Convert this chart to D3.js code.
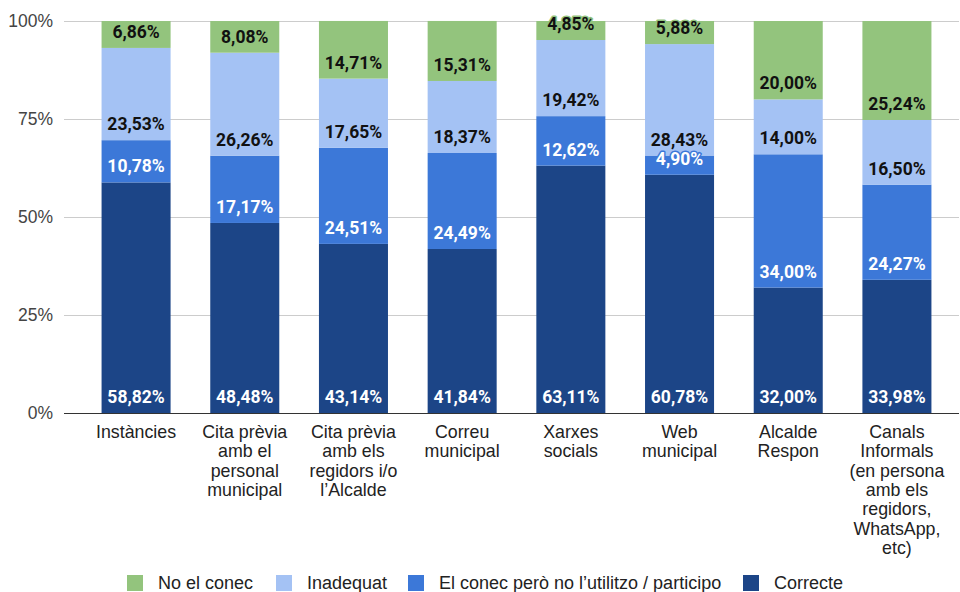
<!doctype html>
<html lang="ca">
<head>
  <meta charset="utf-8">
  <title>Canals de participació</title>
  <style type="text/css">
    body{ margin:0; background:#fff; }
    text{ font-family: "Liberation Sans", Arial, sans-serif; }
    .lbl{ font-family: Roboto, sans-serif; font-weight:700; font-size:17.5px; paint-order:stroke; stroke-width:3px; stroke-linejoin:round; }
  </style>
</head>
<body>
  <div id="vis"></div>
  <script src="https://cdn.jsdelivr.net/npm/d3@7/dist/d3.min.js"></script>
  <script type="text/javascript">

    var categories = ['Instàncies', 'Cita prèvia personal', 'Cita prèvia regidors', 'Correu municipal',
      'Xarxes socials', 'Web municipal', 'Alcalde Respon', 'Canals Informals'];
    var tickLabels = [
      ['Instàncies'],
      ['Cita prèvia', 'amb el', 'personal', 'municipal'],
      ['Cita prèvia', 'amb els', 'regidors i/o', 'l’Alcalde'],
      ['Correu', 'municipal'],
      ['Xarxes', 'socials'],
      ['Web', 'municipal'],
      ['Alcalde', 'Respon'],
      ['Canals', 'Informals', '(en persona', 'amb els', 'regidors,', 'WhatsApp,', 'etc)']
    ];
    var seriesNames = ['Correcte', 'El conec però no l’utilitzo / participo', 'Inadequat', 'No el conec'];
    var correcte   = [58.82, 48.48, 43.14, 41.84, 63.11, 60.78, 32.00, 33.98];
    var elConec    = [10.78, 17.17, 24.51, 24.49, 12.62, 4.90, 34.00, 24.27];
    var inadequat  = [23.53, 26.26, 17.65, 18.37, 19.42, 28.43, 14.00, 16.50];
    var noElConec  = [6.86, 8.08, 14.71, 15.31, 4.85, 5.88, 20.00, 25.24];
    var yTicks = [0, 25, 50, 75, 100];

    var colors = ['#1c4587', '#3c78d8', '#a4c2f4', '#93c47d'];
    var labelColors = ['#fff', '#fff', '#111', '#111'];
    var legendOrder = [3, 2, 1, 0];

    var width = 960, height = 592;
    var plotTop = 21, plotBottom = 413, gridLeft = 64, gridRight = 959;

    var svg = d3.select('#vis').append('svg').attr('width', width).attr('height', height);

    var rows = categories.map(function(c, i){
      return {cat: c, s0: correcte[i], s1: elConec[i], s2: inadequat[i], s3: noElConec[i]};
    });
    var keys = ['s0', 's1', 's2', 's3'];
    var stacked = d3.stack().keys(keys)(rows);

    var x = d3.scaleBand().domain(categories).range([82, 951]).paddingInner(0.365).paddingOuter(0.18);
    var y = d3.scaleLinear().domain([0, 100]).range([plotBottom, plotTop]);

    // gridlines
    svg.append('g').selectAll('line').data(yTicks.filter(function(t){ return t > 0; })).enter().append('line')
      .attr('x1', gridLeft).attr('x2', gridRight)
      .attr('y1', function(d){ return y(d) + 0.5; }).attr('y2', function(d){ return y(d) + 0.5; })
      .style('stroke', '#ccc').style('stroke-width', 1);

    // y tick labels
    svg.append('g').selectAll('text').data(yTicks).enter().append('text')
      .attr('x', 53).attr('y', function(d){ return y(d) + 6; })
      .attr('text-anchor', 'end')
      .style('font-size', '17.5px').style('fill', '#444')
      .text(function(d){ return d + '%'; });

    // bars
    stacked.forEach(function(layer, si){
      svg.append('g').selectAll('rect').data(layer).enter().append('rect')
        .attr('x', function(d){ return x(d.data.cat); })
        .attr('width', x.bandwidth())
        .attr('y', function(d){ return y(d[1]); })
        .attr('height', function(d){ return y(d[0]) - y(d[1]); })
        .style('fill', colors[si]);
    });

    // baseline
    svg.append('line').attr('x1', gridLeft).attr('x2', gridRight)
      .attr('y1', y(0) + 0.5).attr('y2', y(0) + 0.5)
      .style('stroke', '#333').style('stroke-width', 1.2);

    // data labels
    stacked.forEach(function(layer, si){
      svg.append('g').selectAll('text').data(layer).enter().append('text')
        .attr('class', 'lbl')
        .attr('x', function(d){ return x(d.data.cat) + x.bandwidth() / 2; })
        .attr('y', function(d){ return y(d[0]) - 10; })
        .attr('text-anchor', 'middle')
        .style('fill', labelColors[si])
        .style('stroke', colors[si])
        .text(function(d){ return (d[1] - d[0]).toFixed(2).replace('.', ',') + '%'; });
    });

    // x labels
    var xl = svg.append('g').selectAll('text').data(categories).enter().append('text')
      .attr('text-anchor', 'middle')
      .style('font-size', '17.8px').style('fill', '#222');
    xl.each(function(c, i){
      var t = d3.select(this);
      tickLabels[i].forEach(function(line, li){
        t.append('tspan')
          .attr('x', x(c) + x.bandwidth() / 2)
          .attr('y', 438 + li * 19.3)
          .text(line);
      });
    });

    // legend
    var legendX = [127, 276, 408, 743];
    var lg = svg.append('g').selectAll('g').data(legendOrder).enter().append('g')
      .attr('transform', function(d, i){ return 'translate(' + legendX[i] + ',575)'; });
    lg.append('rect').attr('width', 16).attr('height', 16)
      .style('fill', function(d){ return colors[d]; });
    lg.append('text').attr('x', 31).attr('y', 14)
      .style('font-size', '18px').style('fill', '#222')
      .text(function(d){ return seriesNames[d]; });

  </script>
</body>
</html>
